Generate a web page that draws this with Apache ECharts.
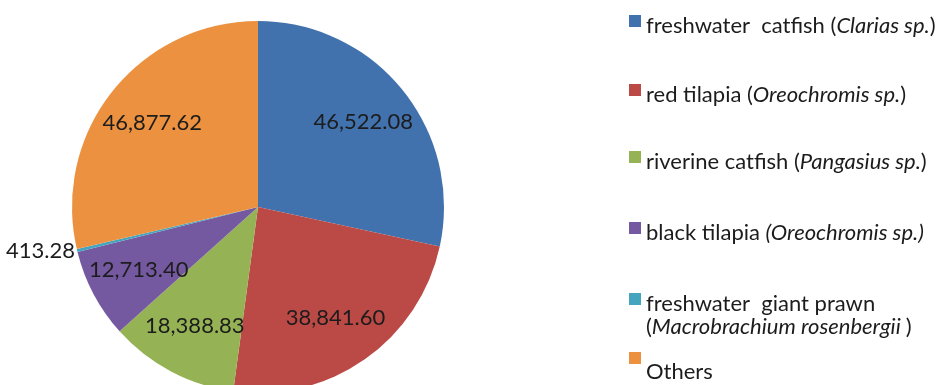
<!DOCTYPE html>
<html>
<head>
<meta charset="utf-8">
<script src="https://cdn.jsdelivr.net/npm/echarts@6/dist/echarts.min.js"></script>
<style>
  html, body { margin: 0; padding: 0; background: #ffffff; }
  #chart { width: 945px; height: 385px; }
</style>
</head>
<body>
<div id="chart"></div>
<script>
// Aquaculture production by species
const categories = ['freshwater catfish', 'red tilapia', 'riverine catfish', 'black tilapia', 'freshwater giant prawn', 'Others'];
const genera = ['Clarias sp.', 'Oreochromis sp.', 'Pangasius sp.', 'Oreochromis sp.', 'Macrobrachium rosenbergii', ''];
const values = [46522.08, 38841.60, 18388.83, 12713.40, 413.28, 46877.62];
const colors = ['#4272ae', '#bb4a46', '#95b355', '#7459a0', '#45a5be', '#ec913f'];
const legendTops = [15, 84, 151, 222, 293, 352];
const legendBoxH = [22, 22, 22, 22, 45, 40];

const FONT = 'Lato, "Open Sans", sans-serif';
const TEXT = '#1c1c1c';
const PIE_CENTER = [258, 207];
const PIE_R = 186;

const fmt = v => v.toLocaleString('en-US', { minimumFractionDigits: 2, maximumFractionDigits: 2 });

function legendLabel(i) {
  const name = categories[i];
  const genus = genera[i];
  if (!genus) return '{n|' + name + '}';
  if (i === 0) return '{n|freshwater  catfish (}{i|' + genus + '}{n|)}';
  if (i === 3) return '{n|' + name + ' }{i|(' + genus + ')}';
  if (i === 4) return '{n|freshwater  giant prawn}\n{n|(}{i|' + genus + ' }{n|)}';
  return '{n|' + name + ' (}{i|' + genus + '}{n|)}';
}

const richText = {
  n: { fontFamily: FONT, fontSize: 22, color: TEXT, lineHeight: 23 },
  i: { fontFamily: FONT, fontSize: 22, color: TEXT, fontStyle: 'italic', lineHeight: 23 }
};

// square swatch at the top of a taller box, so the text sits lower than the swatch
function swatch(boxH) {
  return 'path://M0,0H12V12H0Z M0,' + boxH + 'h0.01';
}

const legends = categories.map((name, i) => ({
  orient: 'vertical',
  left: 629,
  top: legendTops[i],
  data: [name],
  icon: swatch(legendBoxH[i]),
  itemWidth: 12,
  itemHeight: legendBoxH[i],
  itemGap: 0,
  padding: 0,
  selectedMode: false,
  itemStyle: { borderWidth: 0 },
  textStyle: { rich: richText },
  formatter: () => legendLabel(i)
}));

const labelStyle = {
  fontFamily: FONT,
  fontSize: 22,
  color: TEXT
};

const chart = echarts.init(document.getElementById('chart'), null, { renderer: 'canvas' });
chart.setOption({
  animation: false,
  backgroundColor: '#ffffff',
  color: colors,
  legend: legends,
  series: [{
    // the slices
    type: 'pie',
    center: PIE_CENTER,
    radius: PIE_R,
    startAngle: 90,
    clockwise: true,
    itemStyle: { borderWidth: 0 },
    emphasis: { disabled: true },
    label: { show: false },
    labelLine: { show: false },
    data: categories.map((name, i) => ({ name: name, value: values[i] }))
  }, {
    // value labels, placed further out along each slice
    type: 'pie',
    center: PIE_CENTER,
    radius: [PIE_R * 0.42, PIE_R],
    startAngle: 90,
    clockwise: true,
    silent: true,
    avoidLabelOverlap: false,
    legendHoverLink: false,
    itemStyle: { color: 'rgba(0,0,0,0)', borderWidth: 0 },
    emphasis: { disabled: true },
    label: Object.assign({ show: true, position: 'inside', formatter: p => fmt(p.value) }, labelStyle),
    labelLine: { show: false },
    data: categories.map((name, i) => {
      const d = { name: name, value: values[i] };
      if (i === 4) {
        // the thin slice gets its value outside, kept clear of the left edge
        d.label = { position: 'outside', alignTo: 'edge', edgeDistance: 6 };
        d.labelLine = { show: false, length: 4, length2: 0 };
      }
      return d;
    })
  }]
});
</script>
</body>
</html>
